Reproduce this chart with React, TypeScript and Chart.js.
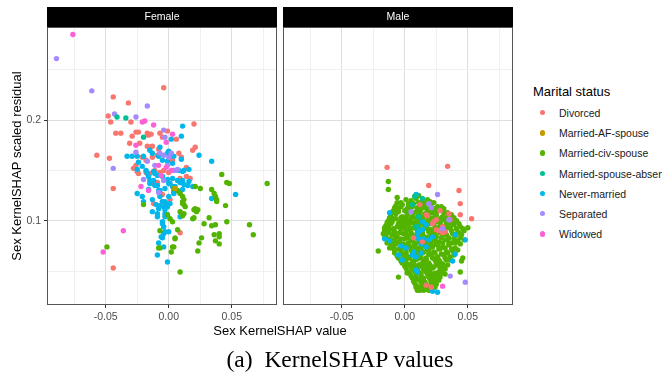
import React, { useEffect, useRef } from 'react';
import { Chart, registerables } from 'chart.js';

Chart.register(...registerables);

type P = [number, number];

const categories = ['Divorced', 'Married-AF-spouse', 'Married-civ-spouse', 'Married-spouse-absent', 'Never-married', 'Separated', 'Widowed'];
const colors = ['#F8766D', '#C49A00', '#53B400', '#00C094', '#00B6EB', '#A58AFF', '#FB61D7'];
const facets = ['Female', 'Male'];
const yTitle = 'Sex KernelSHAP scaled residual';

const xMajorTicks = [-0.05, 0, 0.05];
const xMajorLabels = ['-0.05', '0.00', '0.05'];
const xMinorTicks = [-0.075, -0.025, 0.025, 0.075];
const yMajorTicks = [0.1, 0.2];
const yMajorLabels = ['0.1', '0.2'];
const yMinorTicks = [0.05, 0.15, 0.25];
const xRange = [-0.0965, 0.0858];
const yRange = [0.0163, 0.2924];

const femaleDivorced: P[] = [
  [-0.004, 0.232], [-0.044, 0.223], [-0.032, 0.217], [-0.048, 0.204], [-0.046, 0.198], [-0.030, 0.198], [0.020, 0.196],
  [-0.042, 0.187], [-0.038, 0.187], [-0.026, 0.188], [-0.024, 0.188], [-0.029, 0.184], [-0.017, 0.187], [-0.016, 0.185],
  [-0.014, 0.186], [-0.007, 0.187], [-0.005, 0.183], [-0.001, 0.189], [0.006, 0.181], [-0.031, 0.177], [-0.017, 0.174],
  [-0.015, 0.173], [-0.013, 0.174], [-0.023, 0.177], [-0.008, 0.171], [0.019, 0.170], [0.021, 0.173], [-0.057, 0.165],
  [-0.047, 0.162], [-0.013, 0.163], [-0.021, 0.163], [-0.009, 0.165], [0.010, 0.163], [-0.018, 0.160], [-0.026, 0.155],
  [-0.011, 0.150], [-0.007, 0.148], [-0.024, 0.147], [-0.018, 0.148], [-0.015, 0.147], [-0.012, 0.149], [-0.004, 0.150],
  [0.000, 0.148], [-0.044, 0.132], [-0.012, 0.117], [-0.005, 0.119], [0.009, 0.088], [-0.044, 0.053], [0.017, 0.142],
  [-0.028, 0.152], [-0.025, 0.149], [-0.012, 0.137], [-0.009, 0.138], [0.014, 0.144], [-0.005, 0.126], [-0.002, 0.116],
  [0.001, 0.121], [0.009, 0.142], [0.008, 0.167], [0.003, 0.160], [0.014, 0.153],
];
const femaleAFSpouse: P[] = [[0.005, 0.132]];
const femaleCivSpouse: P[] = [
  [-0.049, 0.074], [-0.020, 0.116], [-0.007, 0.090], [-0.008, 0.073], [0.002, 0.069], [0.004, 0.074], [0.005, 0.083],
  [-0.001, 0.106], [0.001, 0.102], [0.003, 0.099], [0.042, 0.146], [0.046, 0.138], [0.048, 0.137], [0.078, 0.137],
  [0.034, 0.131], [0.036, 0.127], [0.037, 0.124], [0.038, 0.121], [0.038, 0.119], [0.045, 0.115], [0.021, 0.134],
  [0.025, 0.132], [0.012, 0.116], [0.013, 0.114], [0.011, 0.119], [0.021, 0.112], [0.022, 0.109], [0.009, 0.109],
  [0.012, 0.107], [0.011, 0.105], [0.032, 0.103], [0.019, 0.102], [0.020, 0.103], [0.028, 0.097], [0.034, 0.095],
  [0.037, 0.096], [0.046, 0.099], [0.064, 0.096], [0.067, 0.086], [0.036, 0.086], [0.040, 0.087], [0.040, 0.084],
  [0.037, 0.080], [0.040, 0.077], [0.026, 0.083], [0.024, 0.078], [0.023, 0.070], [0.007, 0.091], [0.005, 0.082],
  [0.003, 0.074], [0.009, 0.049], [-0.007, 0.073], [0.009, 0.127], [0.011, 0.124], [0.012, 0.121], [0.011, 0.117],
  [0.004, 0.132], [0.007, 0.130], [0.020, 0.111], [0.023, 0.111],
];
const femaleSpouseAbsent: P[] = [[-0.041, 0.203], [-0.034, 0.202], [-0.020, 0.183]];
const femaleNeverMarried: P[] = [
  [0.011, 0.194], [0.002, 0.181], [0.010, 0.184], [-0.007, 0.173], [0.024, 0.165], [0.034, 0.159], [-0.033, 0.164],
  [-0.029, 0.164], [-0.025, 0.164], [-0.020, 0.164], [-0.001, 0.167], [0.001, 0.165], [0.004, 0.164], [0.010, 0.161],
  [0.000, 0.169], [0.004, 0.150], [0.008, 0.150], [0.012, 0.150], [0.016, 0.151], [0.011, 0.149],
  [-0.025, 0.127], [-0.021, 0.124], [-0.020, 0.119], [-0.016, 0.131], [-0.015, 0.137], [-0.016, 0.144], [-0.012, 0.140],
  [-0.009, 0.135], [-0.008, 0.130], [-0.007, 0.124], [-0.005, 0.119], [-0.004, 0.114], [-0.003, 0.111], [-0.001, 0.106],
  [-0.008, 0.112], [-0.009, 0.104], [-0.005, 0.099], [-0.004, 0.094], [-0.003, 0.089], [-0.005, 0.083], [-0.009, 0.066],
  [-0.001, 0.059], [-0.013, 0.109], [-0.009, 0.107], [-0.013, 0.121], [-0.010, 0.116], [-0.007, 0.115], [-0.003, 0.119],
  [0.000, 0.124], [0.004, 0.127], [0.008, 0.129], [0.011, 0.131], [0.015, 0.135], [0.019, 0.134], [0.016, 0.139],
  [0.011, 0.140], [0.007, 0.140], [0.003, 0.142], [-0.001, 0.141], [-0.005, 0.144], [-0.009, 0.145], [0.034, 0.122],
  [0.053, 0.126], [-0.017, 0.147], [-0.015, 0.140], [-0.011, 0.135], [-0.007, 0.130], [-0.003, 0.132], [0.000, 0.137],
  [0.003, 0.134], [0.004, 0.129], [0.001, 0.117], [-0.001, 0.114], [-0.003, 0.104], [0.000, 0.089], [-0.006, 0.084],
  [-0.008, 0.078], [-0.004, 0.074], [0.009, 0.138], [0.012, 0.136], [0.005, 0.134], [0.001, 0.137], [-0.001, 0.117],
  [-0.003, 0.107], [-0.005, 0.097], [-0.004, 0.087], [0.009, 0.104], [-0.024, 0.158], [-0.021, 0.154], [-0.015, 0.170],
  [-0.013, 0.167], [-0.008, 0.164], [-0.005, 0.160], [-0.001, 0.159], [0.003, 0.157], [-0.025, 0.151], [-0.018, 0.150],
  [-0.012, 0.149], [-0.011, 0.147],
];
const femaleSeparated: P[] = [
  [-0.089, 0.261], [-0.061, 0.229], [-0.017, 0.214], [-0.043, 0.206], [-0.026, 0.203], [-0.004, 0.190], [-0.003, 0.183],
  [-0.044, 0.152], [-0.026, 0.168], [-0.011, 0.155], [-0.007, 0.167], [-0.004, 0.165], [0.000, 0.163], [0.002, 0.167],
  [-0.020, 0.141], [-0.008, 0.128], [-0.017, 0.159], [-0.001, 0.155], [0.005, 0.150], [0.007, 0.151], [-0.004, 0.140],
];
const femaleWidowed: P[] = [
  [-0.076, 0.285], [-0.021, 0.198], [-0.019, 0.199], [-0.012, 0.195], [0.003, 0.186], [-0.026, 0.175], [-0.002, 0.178],
  [-0.036, 0.090], [-0.052, 0.069], [-0.022, 0.134], [-0.016, 0.130], [-0.008, 0.155], [-0.002, 0.153], [0.002, 0.150],
  [-0.006, 0.145],
];

const maleDivorced: P[] = [
  [-0.014, 0.153], [0.034, 0.154], [0.019, 0.135], [0.043, 0.130], [0.044, 0.117], [0.044, 0.106], [0.053, 0.102],
  [0.035, 0.107], [0.036, 0.101], [0.028, 0.110], [0.012, 0.116], [0.025, 0.101], [0.023, 0.099], [0.021, 0.034],
  [0.007, 0.083], [0.014, 0.079], [0.017, 0.106], [0.018, 0.105], [0.030, 0.094], [0.032, 0.089], [0.025, 0.091],
  [0.017, 0.036], [0.022, 0.097], [0.030, 0.088], [0.027, 0.090],
];
const maleAFSpouse: P[] = [];
const maleCivSpouse: P[] = [
  [-0.013, 0.139], [-0.013, 0.131], [-0.006, 0.123], [-0.006, 0.118], [-0.021, 0.070], [-0.010, 0.073], [-0.005, 0.044],
  [-0.015, 0.092], [-0.014, 0.089], [0.050, 0.093], [0.047, 0.090], [0.047, 0.081], [0.046, 0.063], [0.045, 0.060],
  [0.044, 0.049], [0.002, 0.048], [0.027, 0.049], [0.032, 0.047], [0.015, 0.031], [0.010, 0.031], [0.009, 0.034],
  [0.008, 0.124], [0.011, 0.125], [0.009, 0.043], [0.010, 0.033], [0.029, 0.051], [0.030, 0.048], [0.027, 0.041],
  [0.019, 0.031], [0.013, 0.033],
  [0.001, 0.121], [0.005, 0.120], [0.009, 0.122], [0.014, 0.119], [0.018, 0.121], [0.023, 0.118], [-0.003, 0.118],
  [0.003, 0.117], [0.011, 0.118], [0.016, 0.117], [0.020, 0.119],
  [-0.007, 0.115], [-0.002, 0.116], [0.003, 0.114], [0.007, 0.117], [0.012, 0.115], [0.016, 0.113], [0.021, 0.116],
  [0.026, 0.114], [0.031, 0.112],
  [-0.008, 0.113], [-0.003, 0.114], [0.002, 0.112], [0.006, 0.114], [0.010, 0.113], [0.015, 0.115], [0.019, 0.112],
  [0.024, 0.112], [0.029, 0.114],
  [-0.009, 0.110], [-0.005, 0.112], [0.000, 0.110], [0.004, 0.111], [0.009, 0.109], [0.013, 0.112], [0.018, 0.110],
  [0.022, 0.108], [0.028, 0.111], [0.034, 0.108],
  [-0.010, 0.108], [-0.005, 0.109], [0.002, 0.109], [0.007, 0.108], [0.012, 0.109], [0.016, 0.107], [0.020, 0.108],
  [0.025, 0.109], [0.031, 0.108],
  [-0.011, 0.105], [-0.007, 0.107], [-0.002, 0.104], [0.002, 0.106], [0.006, 0.104], [0.011, 0.107], [0.015, 0.105],
  [0.020, 0.103], [0.025, 0.106], [0.030, 0.104], [0.037, 0.106],
  [-0.012, 0.103], [-0.007, 0.102], [-0.003, 0.103], [0.001, 0.103], [0.005, 0.102], [0.009, 0.103], [0.014, 0.102],
  [0.018, 0.104], [0.023, 0.103], [0.028, 0.102], [0.033, 0.103], [0.039, 0.103],
  [-0.013, 0.100], [-0.009, 0.102], [-0.004, 0.099], [0.000, 0.101], [0.004, 0.100], [0.008, 0.098], [0.012, 0.101],
  [0.017, 0.099], [0.021, 0.102], [0.026, 0.099], [0.031, 0.101], [0.036, 0.098], [0.041, 0.100],
  [-0.014, 0.098], [-0.010, 0.099], [-0.005, 0.097], [-0.001, 0.098], [0.002, 0.097], [0.006, 0.098], [0.010, 0.099],
  [0.014, 0.097], [0.019, 0.099], [0.023, 0.097], [0.028, 0.098], [0.033, 0.097], [0.038, 0.098], [0.043, 0.097],
  [-0.015, 0.095], [-0.011, 0.097], [-0.006, 0.094], [-0.002, 0.096], [0.003, 0.095], [0.007, 0.093], [0.011, 0.096],
  [0.016, 0.094], [0.020, 0.097], [0.024, 0.093], [0.029, 0.095], [0.034, 0.093], [0.039, 0.096], [0.044, 0.094],
  [-0.016, 0.093], [-0.013, 0.094], [-0.009, 0.092], [-0.004, 0.094], [0.000, 0.093], [0.004, 0.091], [0.008, 0.093],
  [0.012, 0.092], [0.017, 0.093], [0.021, 0.091], [0.026, 0.093], [0.031, 0.091], [0.036, 0.093], [0.041, 0.092],
  [0.046, 0.092],
  [-0.016, 0.090], [-0.012, 0.091], [-0.008, 0.089], [-0.003, 0.092], [0.001, 0.090], [0.005, 0.088], [0.010, 0.091],
  [0.014, 0.089], [0.018, 0.092], [0.023, 0.089], [0.027, 0.091], [0.032, 0.088], [0.037, 0.090], [0.042, 0.088],
  [-0.017, 0.087], [-0.013, 0.088], [-0.008, 0.087], [-0.004, 0.088], [0.001, 0.087], [0.006, 0.086], [0.010, 0.088],
  [0.014, 0.087], [0.019, 0.089], [0.024, 0.087], [0.028, 0.088], [0.033, 0.086], [0.038, 0.087], [0.043, 0.088],
  [-0.015, 0.085], [-0.010, 0.086], [-0.006, 0.084], [-0.001, 0.087], [0.003, 0.085], [0.008, 0.083], [0.012, 0.086],
  [0.016, 0.084], [0.021, 0.087], [0.025, 0.084], [0.030, 0.086], [0.035, 0.083], [0.040, 0.085], [0.045, 0.086],
  [-0.016, 0.083], [-0.012, 0.082], [-0.007, 0.083], [-0.003, 0.082], [0.002, 0.083], [0.006, 0.081], [0.011, 0.083],
  [0.015, 0.082], [0.019, 0.084], [0.024, 0.081], [0.029, 0.083], [0.034, 0.081], [0.039, 0.082], [0.044, 0.083],
  [-0.013, 0.080], [-0.009, 0.081], [-0.004, 0.079], [0.000, 0.082], [0.005, 0.080], [0.009, 0.078], [0.014, 0.081],
  [0.018, 0.079], [0.023, 0.082], [0.027, 0.079], [0.032, 0.081], [0.037, 0.078], [0.042, 0.080],
  [-0.014, 0.078], [-0.010, 0.077], [-0.006, 0.079], [-0.001, 0.077], [0.003, 0.078], [0.008, 0.077], [0.012, 0.079],
  [0.017, 0.077], [0.021, 0.078], [0.026, 0.076], [0.030, 0.078], [0.035, 0.077], [0.040, 0.078], [0.044, 0.077],
  [-0.011, 0.075], [-0.007, 0.077], [-0.002, 0.074], [0.002, 0.076], [0.007, 0.075], [0.011, 0.073], [0.016, 0.076],
  [0.020, 0.074], [0.025, 0.077], [0.030, 0.074], [0.035, 0.076], [0.040, 0.073],
  [-0.012, 0.073], [-0.009, 0.074], [-0.005, 0.072], [0.000, 0.073], [0.004, 0.074], [0.009, 0.072], [0.013, 0.073],
  [0.018, 0.072], [0.022, 0.074], [0.027, 0.072], [0.032, 0.073], [0.037, 0.072], [0.042, 0.071],
  [-0.008, 0.070], [-0.004, 0.072], [0.001, 0.069], [0.005, 0.071], [0.010, 0.070], [0.014, 0.068], [0.019, 0.071],
  [0.023, 0.069], [0.028, 0.072], [0.033, 0.069], [0.038, 0.070],
  [-0.008, 0.068], [-0.003, 0.069], [0.001, 0.067], [0.006, 0.068], [0.010, 0.067], [0.015, 0.069], [0.019, 0.067],
  [0.024, 0.068], [0.029, 0.067], [0.034, 0.068], [0.039, 0.066],
  [-0.006, 0.065], [-0.001, 0.066], [0.003, 0.064], [0.008, 0.067], [0.012, 0.065], [0.017, 0.063], [0.021, 0.066],
  [0.026, 0.064], [0.031, 0.066], [0.036, 0.064],
  [-0.005, 0.063], [-0.001, 0.062], [0.004, 0.063], [0.008, 0.061], [0.013, 0.063], [0.017, 0.061], [0.022, 0.063],
  [0.027, 0.061], [0.032, 0.063], [0.036, 0.061],
  [-0.003, 0.060], [0.001, 0.061], [0.006, 0.059], [0.010, 0.062], [0.015, 0.060], [0.019, 0.058], [0.024, 0.061],
  [0.028, 0.059], [0.033, 0.061],
  [-0.002, 0.058], [0.002, 0.057], [0.007, 0.058], [0.011, 0.056], [0.016, 0.058], [0.020, 0.056], [0.025, 0.058],
  [0.030, 0.057], [0.034, 0.056],
  [0.000, 0.055], [0.004, 0.056], [0.008, 0.054], [0.013, 0.057], [0.017, 0.055], [0.022, 0.053], [0.026, 0.056],
  [0.031, 0.054],
  [0.001, 0.053], [0.005, 0.054], [0.010, 0.052], [0.014, 0.054], [0.019, 0.052], [0.023, 0.054], [0.028, 0.053],
  [0.032, 0.052],
  [0.002, 0.050], [0.006, 0.052], [0.011, 0.049], [0.015, 0.051], [0.020, 0.050], [0.024, 0.048],
  [0.004, 0.048], [0.008, 0.049], [0.013, 0.047], [0.017, 0.049], [0.021, 0.047], [0.026, 0.046],
  [0.005, 0.045], [0.009, 0.046], [0.013, 0.044], [0.018, 0.047], [0.022, 0.045], [0.026, 0.043],
  [0.006, 0.043], [0.010, 0.042], [0.015, 0.043], [0.019, 0.044], [0.023, 0.042], [0.028, 0.044],
  [0.007, 0.040], [0.012, 0.041], [0.016, 0.039], [0.020, 0.042], [0.024, 0.040],
  [0.008, 0.038], [0.013, 0.039], [0.017, 0.037], [0.021, 0.039], [0.025, 0.037],
  [0.009, 0.036], [0.014, 0.037], [0.018, 0.035], [0.022, 0.036], [0.012, 0.031], [0.017, 0.032],
  [0.011, 0.034], [0.015, 0.034], [0.020, 0.033], [0.024, 0.034],
];
const maleSpouseAbsent: P[] = [[0.014, 0.122], [0.006, 0.116], [0.008, 0.124], [0.009, 0.094], [0.011, 0.104]];
const maleNeverMarried: P[] = [
  [-0.012, 0.108], [-0.016, 0.082], [-0.012, 0.080], [0.040, 0.086], [0.040, 0.067], [0.038, 0.060], [0.026, 0.029],
  [0.022, 0.030], [0.009, 0.051], [0.010, 0.049], [0.009, 0.126], [-0.003, 0.075], [0.001, 0.073], [-0.002, 0.061],
  [0.013, 0.077], [0.017, 0.074], [0.015, 0.082], [0.010, 0.086], [0.011, 0.082], [0.048, 0.081], [0.019, 0.081],
  [0.022, 0.084], [0.013, 0.068], [0.009, 0.064], [-0.005, 0.066], [0.011, 0.089], [0.010, 0.094], [0.014, 0.091],
  [0.006, 0.066], [0.007, 0.069], [0.014, 0.099], [0.017, 0.096],
];
const maleSeparated: P[] = [
  [0.026, 0.126], [0.021, 0.113], [0.019, 0.117], [0.005, 0.109], [0.035, 0.101], [0.030, 0.092], [0.036, 0.045],
  [0.048, 0.039],
];
const maleWidowed: P[] = [[0.030, 0.035]];

const femaleSeries = [femaleDivorced, femaleAFSpouse, femaleCivSpouse, femaleSpouseAbsent, femaleNeverMarried, femaleSeparated, femaleWidowed];
const maleSeries = [maleDivorced, maleAFSpouse, maleCivSpouse, maleSpouseAbsent, maleNeverMarried, maleSeparated, maleWidowed];
// drawing order, bottom to top (category indices)
const femaleDrawOrder = [0, 4, 2, 5, 6, 3, 1];
const maleDrawOrder = [2, 4, 0, 5, 3, 6, 1];

const FONT = '"Liberation Sans", Arial, Helvetica, sans-serif';
const near = (a: number, b: number) => Math.abs(a - b) < 1e-9;

const panelPlugin = {
  id: 'panelFrame',
  afterDatasetsDraw(chart: any, _args: any, opts: any) {
    const { ctx, chartArea: a } = chart;
    ctx.save();
    ctx.strokeStyle = '#555555';
    ctx.lineWidth = 1;
    const l = Math.round(a.left), t = Math.round(a.top), r = Math.round(a.right), b = Math.round(a.bottom);
    ctx.strokeRect(l + 0.5, t + 0.5, r - l - 1, b - t - 1);
    ctx.fillStyle = '#000000';
    ctx.fillRect(l, t - 20, r - l, 20);
    ctx.fillStyle = '#FFFFFF';
    ctx.font = `10.5px ${FONT}`;
    ctx.textAlign = 'center';
    ctx.textBaseline = 'middle';
    ctx.fillText(opts.title, (l + r) / 2, t - 10);
    ctx.restore();
  },
};

function buildChart(canvas: HTMLCanvasElement, series: P[][], order: number[], title: string, showY: boolean, padRight: number) {
  const datasets = order
    .map((ci) => ({
      label: categories[ci],
      data: series[ci].map(([x, y]) => ({ x, y })),
      backgroundColor: colors[ci],
      borderWidth: 0,
      pointRadius: 2.7,
      pointHoverRadius: 2.7,
    }))
    .reverse();
  const xAll = [...xMajorTicks, ...xMinorTicks].sort((a, b) => a - b);
  const yAll = [...yMajorTicks, ...yMinorTicks].sort((a, b) => a - b);
  const isXMajor = (v: number) => xMajorTicks.some((m) => near(m, v));
  const isYMajor = (v: number) => yMajorTicks.some((m) => near(m, v));
  return new Chart(canvas, {
    type: 'scatter',
    data: { datasets },
    options: {
      animation: false,
      responsive: false,
      maintainAspectRatio: false,
      events: [],
      layout: { padding: { top: 27, right: padRight, left: 0, bottom: 0 } },
      plugins: {
        legend: { display: false },
        tooltip: { enabled: false },
        // @ts-ignore
        panelFrame: { title },
      },
      scales: {
        x: {
          type: 'linear',
          min: xRange[0],
          max: xRange[1],
          afterBuildTicks: (s: any) => {
            s.ticks = xAll.map((v) => ({ value: v }));
          },
          afterFit: (s: any) => {
            s.height = 35;
          },
          ticks: {
            autoSkip: false,
            maxRotation: 0,
            padding: 3,
            color: '#4D4D4D',
            font: { size: 10.5, family: FONT },
            callback: (v: any) => {
              const i = xMajorTicks.findIndex((m) => near(m, Number(v)));
              return i >= 0 ? xMajorLabels[i] : '';
            },
          },
          grid: {
            lineWidth: 1,
            tickLength: 3,
            color: (c: any) => (isXMajor(c.tick.value) ? '#DEDEDE' : '#F0F0F0'),
            tickColor: (c: any) => (isXMajor(c.tick.value) ? '#333333' : 'rgba(0,0,0,0)'),
          },
          border: { display: false },
        },
        y: {
          type: 'linear',
          min: yRange[0],
          max: yRange[1],
          title: {
            display: showY,
            text: yTitle,
            color: '#000000',
            font: { size: 13, family: FONT },
            padding: { top: 10, bottom: 0 },
          },
          afterBuildTicks: (s: any) => {
            s.ticks = yAll.map((v) => ({ value: v }));
          },
          afterFit: (s: any) => {
            s.width = showY ? 47 : 3;
          },
          ticks: {
            display: showY,
            autoSkip: false,
            padding: 3,
            color: '#4D4D4D',
            font: { size: 10.5, family: FONT },
            callback: (v: any) => {
              const i = yMajorTicks.findIndex((m) => near(m, Number(v)));
              return i >= 0 ? yMajorLabels[i] : '';
            },
          },
          grid: {
            lineWidth: 1,
            drawTicks: showY,
            tickLength: 3,
            color: (c: any) => (isYMajor(c.tick.value) ? '#DEDEDE' : '#F0F0F0'),
            tickColor: (c: any) => (isYMajor(c.tick.value) ? '#333333' : 'rgba(0,0,0,0)'),
          },
          border: { display: false },
        },
      },
    } as any,
    plugins: [panelPlugin],
  });
}

export default function App() {
  const leftRef = useRef<HTMLCanvasElement | null>(null);
  const rightRef = useRef<HTMLCanvasElement | null>(null);

  useEffect(() => {
    if (!leftRef.current || !rightRef.current) return;
    const c1 = buildChart(leftRef.current, femaleSeries, femaleDrawOrder, facets[0], true, 3);
    const c2 = buildChart(rightRef.current, maleSeries, maleDrawOrder, facets[1], false, 7);
    return () => {
      c1.destroy();
      c2.destroy();
    };
  }, []);

  const legendTop = 107;
  const legendStep = 20.2;

  return (
    <div style={{ position: 'absolute', left: 0, top: 0, width: 662, height: 382, background: '#fff', fontFamily: FONT, overflow: 'hidden' }}>
      <canvas ref={leftRef} width={280} height={340} style={{ position: 'absolute', left: 0, top: 0, width: 280, height: 340 }} />
      <canvas ref={rightRef} width={240} height={340} style={{ position: 'absolute', left: 280, top: 0, width: 240, height: 340 }} />

      <div style={{ position: 'absolute', left: 180, width: 200, textAlign: 'center', top: 324, fontSize: 13, lineHeight: '13px', whiteSpace: 'nowrap', color: '#000' }}>
        Sex KernelSHAP value
      </div>

      <div style={{ position: 'absolute', left: 533, top: 85, fontSize: 13, lineHeight: '13px', whiteSpace: 'nowrap', color: '#000' }}>
        Marital status
      </div>
      {categories.map((c, i) => (
        <div key={c} style={{ position: 'absolute', left: 533, top: legendTop + i * legendStep, height: 12, width: 129 }}>
          <div style={{ position: 'absolute', left: 7, top: 3, width: 5.4, height: 5.4, borderRadius: '50%', background: colors[i] }} />
          <div style={{ position: 'absolute', left: 26, top: 0, fontSize: 10.5, lineHeight: '12px', whiteSpace: 'nowrap', color: '#1A1A1A' }}>{c}</div>
        </div>
      ))}

      <div
        style={{
          position: 'absolute', left: 190, width: 300, textAlign: 'center', top: 348, fontSize: 23.5, lineHeight: '22px', whiteSpace: 'nowrap', color: '#000',
          fontFamily: '"Liberation Serif", "Times New Roman", Times, serif',
        }}
      >
        (a)&nbsp;&nbsp;KernelSHAP values
      </div>
    </div>
  );
}
